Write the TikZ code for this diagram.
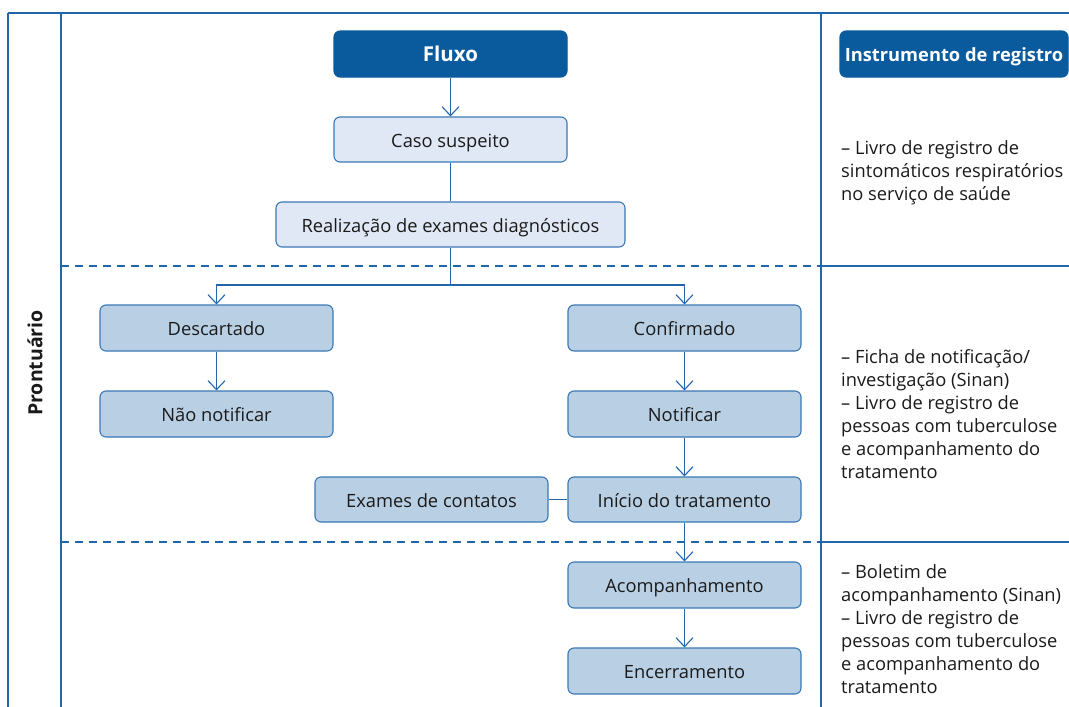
\documentclass[tikz,border=0pt]{standalone}
\usepackage{fontspec}
\setmainfont{Open Sans}
\usetikzlibrary{arrows.meta}
\definecolor{dblue}{HTML}{0A5A9E}
\definecolor{lineblue}{HTML}{2166AC}
\definecolor{lightfill}{HTML}{E1E8F5}
\definecolor{midfill}{HTML}{B9D0E4}
\definecolor{boxedge}{HTML}{3A78B5}
\definecolor{txt}{HTML}{1A1A1A}
\tikzset{
  base/.style={rounded corners=6pt, line width=1.1pt, inner sep=0pt, text height=17pt, text depth=2pt, font=\fontsize{18.3}{22}\selectfont, text=txt},
  headbox/.style={base, fill=dblue, draw=dblue, text=white, font=\fontsize{18.3}{22}\selectfont\bfseries},
  lightbox/.style={base, fill=lightfill, draw=boxedge},
  midbox/.style={base, fill=midfill, draw=boxedge},
  conn/.style={draw=lineblue, line width=1.1pt},
  arr/.style={conn, -{Straight Barb[length=9pt,width=17pt,line width=1.1pt]}},
  frame/.style={draw=lineblue, line width=1.3pt},
  sep/.style={draw=lineblue, line width=1.1pt, dash pattern=on 8pt off 6pt},
  note/.style={align=left, anchor=west, inner sep=0pt, font=\fontsize{18.3}{23}\selectfont, text=txt}
}
\begin{document}
\begin{tikzpicture}[x=1pt,y=-1pt]
\useasboundingbox (0,0) rectangle (1069,707);
% frame
\coordinate (tl) at (8,13);
\coordinate (tr) at (1069,13);
\coordinate (bl) at (8,707);
\coordinate (c1t) at (61,13);
\coordinate (c1b) at (61,707);
\coordinate (c2t) at (821,13);
\coordinate (c2b) at (821,707);
\draw[frame, line width=2.5pt] (tr) -- (tl);
\draw[frame, line width=2pt] (tl) -- (bl);
\draw[frame] (c1t) -- (c1b);
\draw[frame] (c2t) -- (c2b);
% separators
\coordinate (s1a) at (61,266);
\coordinate (s1b) at (821,266);
\coordinate (s1c) at (1069,266);
\coordinate (s2a) at (61,542);
\coordinate (s2b) at (821,542);
\coordinate (s2c) at (1069,542);
\draw[sep] (s1a) -- (s1b);
\draw[frame, line width=1.1pt] (s1b) -- (s1c);
\draw[sep] (s2a) -- (s2b);
\draw[frame, line width=1.1pt] (s2b) -- (s2c);
% label
\node[rotate=90, text=txt, font=\fontsize{19.5}{22}\selectfont\bfseries] (pront) at (35,363) {Prontuário};
% boxes
\node[headbox, font=\fontsize{20.5}{22}\selectfont\bfseries, minimum width=233pt, minimum height=46pt] (fluxo) at (450.5,54) {Fluxo};
\node[headbox, minimum width=228pt, minimum height=46pt] (instr) at (954,54) {Instrumento de registro};
\node[lightbox, minimum width=233pt, minimum height=45pt] (caso) at (450.5,139.5) {Caso suspeito};
\node[lightbox, minimum width=349pt, minimum height=45pt] (real) at (450.5,224.5) {Realização de exames diagnósticos};
\node[midbox, minimum width=233pt, minimum height=46pt] (desc) at (216.5,328) {Descartado};
\node[midbox, minimum width=233pt, minimum height=46pt] (naonot) at (216.5,414) {Não notificar};
\node[midbox, minimum width=233pt, minimum height=46pt] (conf) at (684.5,328) {Confirmado};
\node[midbox, minimum width=233pt, minimum height=46pt] (notif) at (684.5,414) {Notificar};
\node[midbox, minimum width=233pt, minimum height=45pt] (inicio) at (684.5,499.5) {Início do tratamento};
\node[midbox, minimum width=233pt, minimum height=45pt] (exames) at (431.5,499.5) {Exames de contatos};
\node[midbox, minimum width=233pt, minimum height=46pt] (acomp) at (684.5,585) {Acompanhamento};
\node[midbox, minimum width=233pt, minimum height=46pt] (encer) at (684.5,671) {Encerramento};
% connectors
\coordinate (split) at (450.5,285);
\draw[arr] (fluxo) -- (caso);
\draw[conn] (caso) -- (real);
\draw[conn] (real.south) -- (split);
\draw[arr] (split) -| (desc.north);
\draw[arr] (split) -| (conf.north);
\draw[arr] (desc) -- (naonot);
\draw[arr] (conf) -- (notif);
\draw[arr] (notif) -- (inicio);
\draw[conn] (exames) -- (inicio);
\draw[arr] (inicio) -- (acomp);
\draw[arr] (acomp) -- (encer);
% notes
\node[note] (n1) at (841,173) {– Livro de registro de\\sintomáticos respiratórios\\no serviço de saúde};
\node[note] (n2) at (841,414) {– Ficha de notificação/\\investigação (Sinan)\\– Livro de registro de\\pessoas com tuberculose\\e acompanhamento do\\tratamento};
\node[note] (n3) at (841,629) {– Boletim de\\acompanhamento (Sinan)\\– Livro de registro de\\pessoas com tuberculose\\e acompanhamento do\\tratamento};
\end{tikzpicture}
\end{document}
